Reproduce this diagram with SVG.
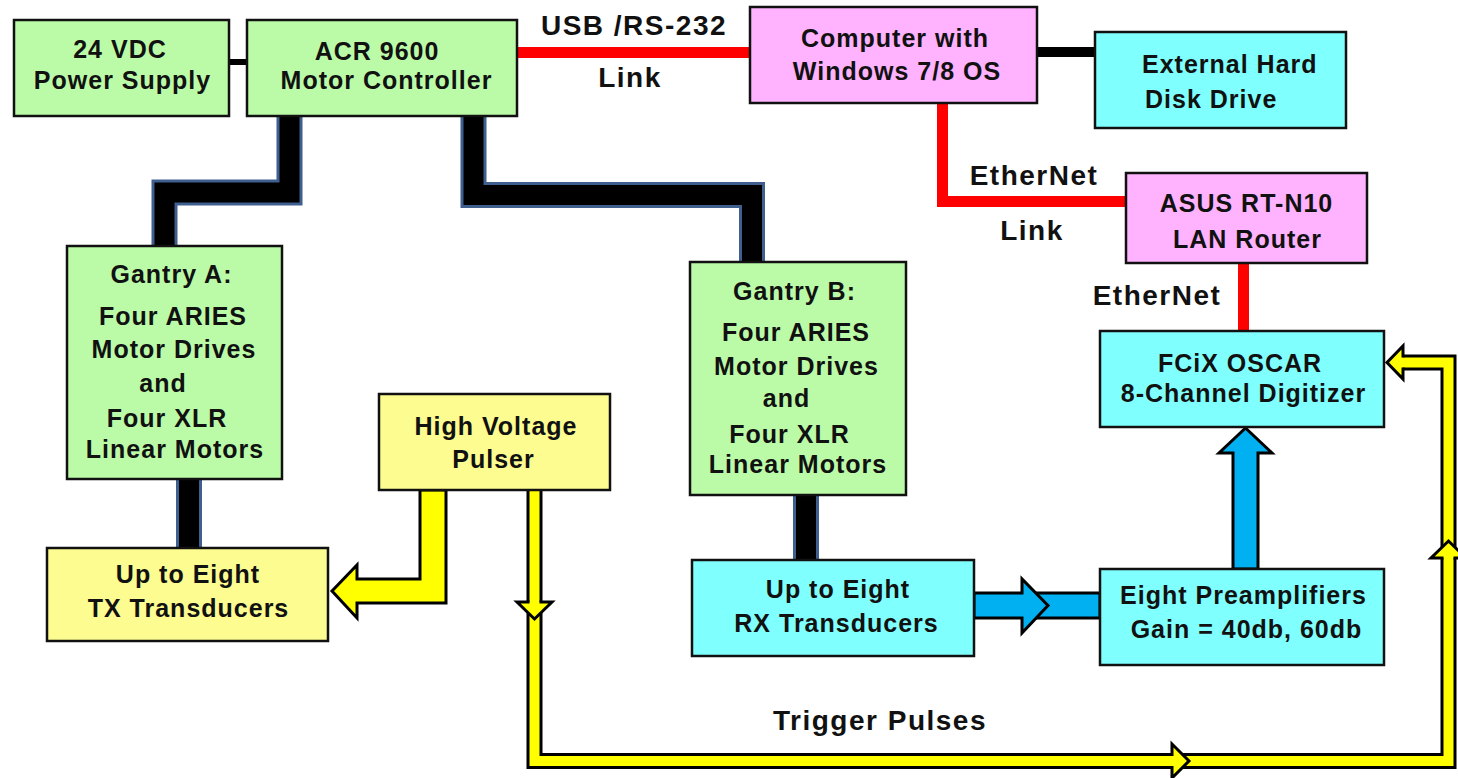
<svg xmlns="http://www.w3.org/2000/svg" width="1458" height="778" viewBox="0 0 1458 778">
<style>
.box{stroke:#111;stroke-width:2.5}
.g{fill:#bbfba8}.p{fill:#ffb3ff}.c{fill:#80ffff}.y{fill:#fcfc90}
text{font-family:"Liberation Sans",Arial,sans-serif;font-weight:bold;fill:#111;text-anchor:middle}
.t{font-size:25px;letter-spacing:1px}
.l{font-size:28px;letter-spacing:1.5px}
.bus{fill:none;stroke-linejoin:miter;stroke-linecap:butt}
.busO{stroke:#3f5f8e;stroke-width:26}
.busI{stroke:#000;stroke-width:20}
.red{fill:none;stroke:#ff0000;stroke-width:11}
.trO{fill:none;stroke:#000;stroke-width:16;stroke-linejoin:miter}
.trI{fill:none;stroke:#ffff00;stroke-width:10;stroke-linejoin:miter}
.yh{fill:#ffff00;stroke:#000;stroke-width:3;stroke-linejoin:miter}
.bh{fill:#00b0f0;stroke:#000;stroke-width:3;stroke-linejoin:miter}
</style>
<rect width="1458" height="778" fill="#ffffff"/>
<g id="connectors">
  <line x1="229" y1="62" x2="247" y2="62" stroke="#000" stroke-width="6"/>
  <line x1="1037" y1="52" x2="1095" y2="52" stroke="#000" stroke-width="10"/>
  <line x1="517" y1="52.5" x2="750" y2="52.5" class="red"/>
  <polyline points="942.5,103 942.5,201.5 1126,201.5" class="red"/>
  <line x1="1243.5" y1="263" x2="1243.5" y2="331" class="red"/>
  <polyline points="289.5,116 289.5,192.5 164.5,192.5 164.5,247" class="bus busO"/>
  <polyline points="289.5,116 289.5,192.5 164.5,192.5 164.5,247" class="bus busI"/>
  <polyline points="473.5,116 473.5,195 752,195 752,262" class="bus busO"/>
  <polyline points="473.5,116 473.5,195 752,195 752,262" class="bus busI"/>
  <line x1="189" y1="479" x2="189" y2="548" class="bus busO"/>
  <line x1="189" y1="479" x2="189" y2="548" class="bus busI"/>
  <line x1="806" y1="495" x2="806" y2="560" class="bus busO"/>
  <line x1="806" y1="495" x2="806" y2="560" class="bus busI"/>
  <polygon points="420,490 446,490 446,603 357,603 357,618 332,591 357,565 357,579 420,579" class="yh"/>
  <polyline points="534.5,490 534.5,761 1448.5,761 1448.5,362.5 1403,362.5" class="trO"/>
  <polyline points="534.5,490 534.5,761 1448.5,761 1448.5,362.5 1403,362.5" class="trI"/>
  <path d="M529.5,602 H517 L534.5,619 L552,602 H539.5" class="yh"/>
  <path d="M1172,756 V744 L1189,761 L1172,778 V766" class="yh"/>
  <path d="M1443.5,558 H1431 L1448.5,541 L1466,558 H1453.5" class="yh"/>
  <path d="M1403,357.5 V346 L1387,362.5 L1403,379 V367.5" class="yh"/>
  <rect x="1030" y="593" width="70" height="25" class="bh"/>
  <polygon points="974,593 1022,593 1022,579 1048,605.5 1022,633 1022,618 974,618" class="bh"/>
  <polygon points="1233,569 1233,453 1219,453 1245.5,428 1272,453 1258,453 1258,569" class="bh"/>
  <text class="l" x="634" y="35">USB /RS-232</text>
  <text class="l" x="630" y="87">Link</text>
  <text class="l" x="1034" y="185">EtherNet</text>
  <text class="l" x="1032" y="240">Link</text>
  <text class="l" x="1157" y="305">EtherNet</text>
  <text class="l" x="880" y="730">Trigger Pulses</text>
</g>
<g id="power">
  <rect x="14" y="20" width="215" height="96" class="box g"/>
  <text class="t" x="120" y="58">24 VDC</text>
  <text class="t" x="122.5" y="89">Power Supply</text>
</g>
<g id="acr">
  <rect x="247" y="20" width="270" height="96" class="box g"/>
  <text class="t" x="377" y="60">ACR 9600</text>
  <text class="t" x="386.5" y="89">Motor Controller</text>
</g>
<g id="computer">
  <rect x="750" y="7" width="287" height="96" class="box p"/>
  <text class="t" x="895" y="47">Computer with</text>
  <text class="t" x="897" y="80">Windows 7/8 OS</text>
</g>
<g id="hdd">
  <rect x="1095" y="32" width="251" height="96" class="box c"/>
  <text class="t" x="1142" y="73" style="text-anchor:start">External Hard</text>
  <text class="t" x="1145" y="108" style="text-anchor:start">Disk Drive</text>
</g>
<g id="router">
  <rect x="1126" y="173" width="241" height="90" class="box p"/>
  <text class="t" x="1246.5" y="212">ASUS RT-N10</text>
  <text class="t" x="1247.5" y="248">LAN Router</text>
</g>
<g id="digitizer">
  <rect x="1100" y="331" width="284" height="96" class="box c"/>
  <text class="t" x="1240" y="372">FCiX OSCAR</text>
  <text class="t" x="1243.5" y="402">8-Channel Digitizer</text>
</g>
<g id="preamps">
  <rect x="1100" y="569" width="284" height="96" class="box c"/>
  <text class="t" x="1243.5" y="604">Eight Preamplifiers</text>
  <text class="t" x="1246.5" y="638">Gain = 40db, 60db</text>
</g>
<g id="gantryA">
  <rect x="67" y="246" width="215" height="233" class="box g"/>
  <text class="t" x="171.5" y="283">Gantry A:</text>
  <text class="t" x="173" y="325">Four ARIES</text>
  <text class="t" x="174" y="358">Motor Drives</text>
  <text class="t" x="163" y="392">and</text>
  <text class="t" x="167" y="427">Four XLR</text>
  <text class="t" x="175" y="458">Linear Motors</text>
</g>
<g id="gantryB">
  <rect x="690" y="262" width="216" height="233" class="box g"/>
  <text class="t" x="794.5" y="300">Gantry B:</text>
  <text class="t" x="796" y="341">Four ARIES</text>
  <text class="t" x="796.5" y="375">Motor Drives</text>
  <text class="t" x="786.5" y="407">and</text>
  <text class="t" x="789.5" y="443">Four XLR</text>
  <text class="t" x="798" y="473">Linear Motors</text>
</g>
<g id="tx">
  <rect x="47" y="548" width="281" height="93" class="box y"/>
  <text class="t" x="188" y="583">Up to Eight</text>
  <text class="t" x="188.5" y="617">TX Transducers</text>
</g>
<g id="pulser">
  <rect x="379" y="394" width="231" height="96" class="box y"/>
  <text class="t" x="496" y="435">High Voltage</text>
  <text class="t" x="493.5" y="468">Pulser</text>
</g>
<g id="rx">
  <rect x="692" y="560" width="282" height="96" class="box c"/>
  <text class="t" x="838" y="598">Up to Eight</text>
  <text class="t" x="836.5" y="632">RX Transducers</text>
</g>
</svg>
